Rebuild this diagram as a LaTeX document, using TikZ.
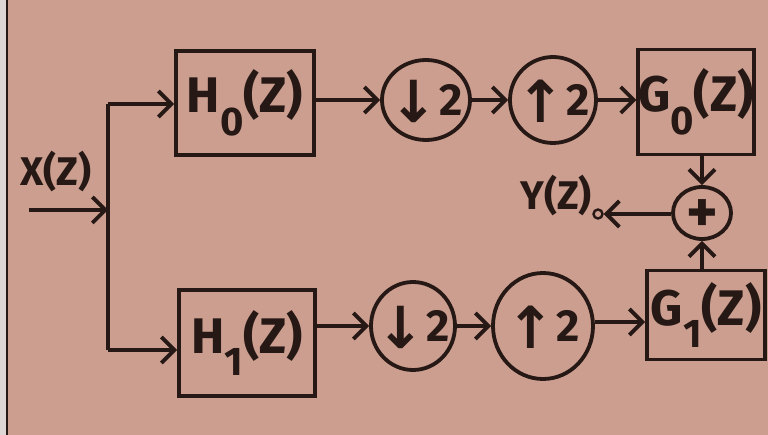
\documentclass[tikz,border=0pt]{standalone}
\usepackage{fontspec}
\setmainfont{Fira Sans}
\newfontfamily\arrowfont{DejaVu Sans}
\usetikzlibrary{arrows.meta,shapes.geometric}
\definecolor{bg}{RGB}{203,158,143}
\definecolor{ink}{RGB}{38,24,20}
\definecolor{edge}{RGB}{222,214,212}
\newcommand\lowsub[1]{\raisebox{-0.45em}{\scalebox{0.8}{#1}}}
\newcommand\rate[1]{\makebox[0pt]{\smash{\raisebox{-16pt}{\raisebox{-0.14em}{\arrowfont\bfseries\fontsize{58}{62}\selectfont #1}\kern1pt 2}}}}
\begin{document}
\begin{tikzpicture}[x=1pt,y=-1pt,
  blockbox/.style={draw=ink, line width=3.8pt, rectangle, inner sep=0pt, text=ink,
    font=\bfseries\fontsize{50}{56}\selectfont},
  ratebox/.style={draw=ink, line width=3.8pt, ellipse, inner sep=0pt, text=ink,
    font=\bfseries\fontsize{45}{50}\selectfont},
  sumbox/.style={draw=ink, line width=3.8pt, ellipse, inner sep=0pt, text=ink,
    minimum width=58pt, minimum height=52pt, font=\bfseries\fontsize{60}{64}\selectfont},
  sig/.style={text=ink, font=\bfseries\fontsize{40}{44}\selectfont, inner sep=0pt},
  wire/.style={draw=ink, line width=3.8pt},
  conn/.style={wire, -{Straight Barb[length=13pt,width=26pt]}}
]
\fill[bg] (0,0) rectangle (768,435);
\useasboundingbox (0,0) rectangle (768,435);
\fill[edge] (0,0) rectangle (6,435);
\draw[ink, line width=1.6pt] (7,0) -- (7,435);

% top row
\node[blockbox, minimum width=138pt, minimum height=104pt] (H0) at (245,103) {H\lowsub{0}(Z)};
\node[ratebox, minimum width=88pt, minimum height=80pt] (d0) at (426,100) {\rate{↓}};
\node[ratebox, minimum width=86pt, minimum height=86pt] (u0) at (553,100) {\rate{↑}};
\node[blockbox, minimum width=108pt, minimum height=105pt] (G0) at (696,102) {G\lowsub{0}(Z)};

% bottom row
\node[blockbox, minimum width=136pt, minimum height=106pt] (H1) at (247,343) {H\lowsub{1}(Z)};
\node[ratebox, minimum width=84pt, minimum height=88pt] (d1) at (413,326) {\rate{↓}};
\node[ratebox, minimum width=100pt, minimum height=106pt] (u1) at (543,326) {\rate{↑}};
\node[blockbox, minimum width=118pt, minimum height=89pt] (G1) at (706,315) {G\lowsub{1}(Z)};

% summing junction and output
\node[sumbox] (sum) at (702,213) {\makebox[0pt]{\smash{\raisebox{-20pt}{+}}}};
\node[circle, draw=ink, line width=2.4pt, minimum size=9pt, inner sep=0pt] (out) at (598,214) {};
\node[sig, anchor=east] (Y) at (592,196) {Y(Z)};

% input
\node[sig] (X) at (56,172) {X(Z)};
\coordinate (xin) at (29,210);
\coordinate (split) at (108,210);
\coordinate (top) at (108,104);
\coordinate (bot) at (108,350);

\draw[conn] (xin) -- (split);
\draw[wire] (top) -- (bot);
\draw[conn] (top) -- (top -| H0.west);
\draw[conn] (bot) -- (bot -| H1.west);

\draw[conn] (H0.east |- d0) -- (d0);
\draw[conn] (d0) -- (u0);
\draw[conn] (u0) -- (u0 -| G0.west);

\draw[conn] (H1.east |- d1) -- (d1);
\draw[conn] (d1) -- (u1);
\draw[conn] (u1.east |- 0,322) -- (G1.west |- 0,322);

\draw[conn] (G0.south -| sum) -- (sum.north);
\draw[conn] (G1.north -| sum) -- (sum.south);
\draw[conn] (sum.west |- out) -- (out.east);
\end{tikzpicture}
\end{document}
